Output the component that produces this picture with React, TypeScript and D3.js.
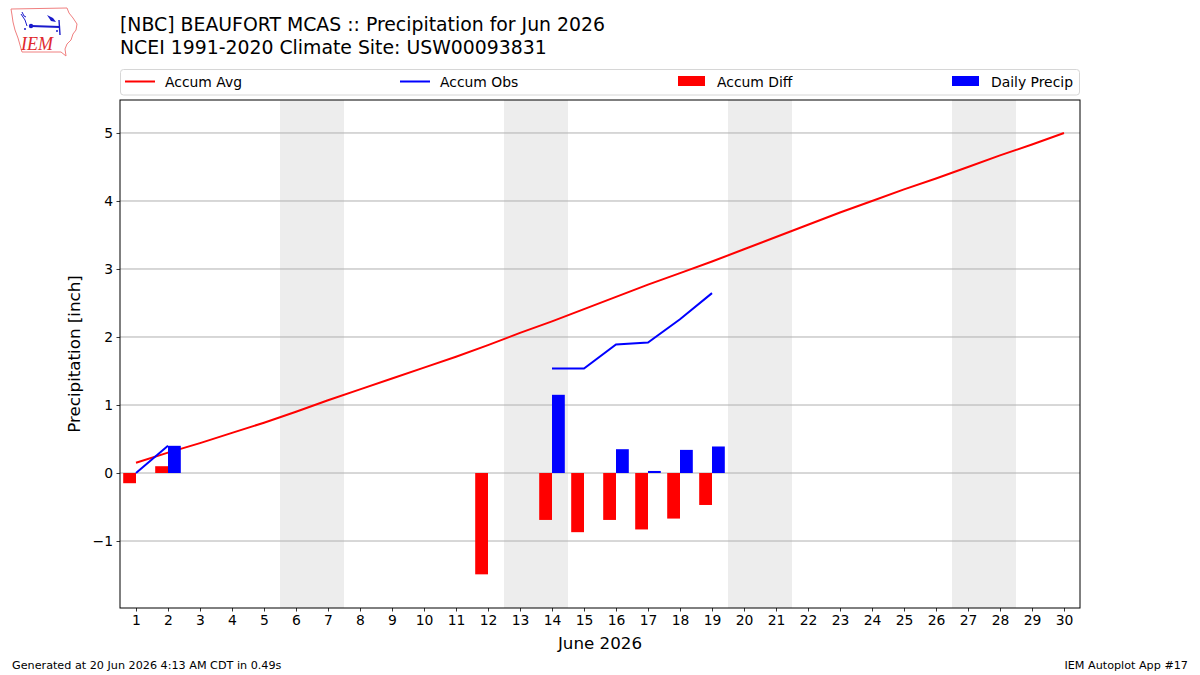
import React, { useEffect, useRef } from 'react';
import * as d3 from 'd3';

// June 2026 days
const days = d3.range(1, 31);

// climatological accumulated precipitation (inch)
const accumAvg = [
  0.15, 0.30, 0.44, 0.59, 0.74, 0.90, 1.07, 1.23, 1.39, 1.55,
  1.71, 1.88, 2.06, 2.23, 2.41, 2.59, 2.77, 2.94, 3.11, 3.29,
  3.47, 3.65, 3.83, 4.00, 4.17, 4.33, 4.50, 4.67, 4.83, 5.00,
];

// observed accumulated precipitation, null where missing
const accumObs: (number | null)[] = [
  0.0, 0.40, null, null, null, null, null, null, null, null,
  null, null, null, 1.535, 1.535, 1.89, 1.92, 2.26, 2.645,
];

// accumulated departure (obs - avg)
const diffDays = [1, 2, 12, 14, 15, 16, 17, 18, 19];
const diffVals = [-0.15, 0.10, -1.49, -0.69, -0.87, -0.69, -0.83, -0.67, -0.47];

// daily precipitation
const precipDays = [2, 14, 16, 17, 18, 19];
const precipVals = [0.40, 1.15, 0.35, 0.03, 0.34, 0.39];

// weekend spans
const weekends = [[6, 7], [13, 14], [20, 21], [27, 28]];

const yTicks = [-1, 0, 1, 2, 3, 4, 5];

const legendItems = [
  { label: 'Accum Avg', kind: 'line', color: 'red', x: 125 },
  { label: 'Accum Obs', kind: 'line', color: 'blue', x: 400 },
  { label: 'Accum Diff', kind: 'bar', color: 'red', x: 678 },
  { label: 'Daily Precip', kind: 'bar', color: 'blue', x: 952 },
];

const FONT = 'DejaVu Sans, sans-serif';

export default function App() {
  const svgRef = useRef<SVGSVGElement>(null);

  useEffect(() => {
    if (!svgRef.current) return;
    const width = 1200;
    const height = 675;
    const margin = { top: 100, right: 120, bottom: 67, left: 120 };

    d3.select(svgRef.current).selectAll('*').remove();
    const svg = d3.select(svgRef.current)
      .attr('width', width)
      .attr('height', height);

    svg.append('rect').attr('width', width).attr('height', height).attr('fill', '#fff');

    const x = d3.scaleLinear().domain([0.5, 30.5]).range([margin.left, width - margin.right]);
    const y = d3.scaleLinear().domain([-1.985, 5.485]).range([height - margin.bottom, margin.top]);
    const bw = x(1.4) - x(1);

    // weekend shading
    svg.append('g').selectAll('rect')
      .data(weekends)
      .enter()
      .append('rect')
      .attr('x', d => x(d[0] - 0.5))
      .attr('width', d => x(d[1] + 0.5) - x(d[0] - 0.5))
      .attr('y', margin.top)
      .attr('height', y.range()[0] - margin.top)
      .attr('fill', '#ededed');

    // horizontal grid
    svg.append('g').selectAll('line')
      .data(yTicks)
      .enter()
      .append('line')
      .attr('x1', x.range()[0])
      .attr('x2', x.range()[1])
      .attr('y1', d => y(d))
      .attr('y2', d => y(d))
      .attr('stroke', '#b0b0b0')
      .attr('stroke-width', 1);

    // accumulation lines
    const line = d3.line<number | null>()
      .defined(d => d !== null)
      .x((_, i) => x(days[i]))
      .y(d => y(d as number));

    svg.append('path')
      .datum(accumAvg)
      .attr('d', line as any)
      .attr('fill', 'none')
      .attr('stroke', 'red')
      .attr('stroke-width', 2);

    svg.append('path')
      .datum(accumObs)
      .attr('d', line as any)
      .attr('fill', 'none')
      .attr('stroke', 'blue')
      .attr('stroke-width', 2);

    // departure bars, left of the day
    svg.append('g').selectAll('rect')
      .data(diffVals)
      .enter()
      .append('rect')
      .attr('x', (_, i) => x(diffDays[i]) - bw)
      .attr('width', bw)
      .attr('y', d => y(Math.max(0, d)))
      .attr('height', d => Math.abs(y(d) - y(0)))
      .attr('fill', 'red');

    // daily precip bars, right of the day
    svg.append('g').selectAll('rect')
      .data(precipVals)
      .enter()
      .append('rect')
      .attr('x', (_, i) => x(precipDays[i]))
      .attr('width', bw)
      .attr('y', d => y(d))
      .attr('height', d => y(0) - y(d))
      .attr('fill', 'blue');

    // axes
    const xAxis = svg.append('g')
      .attr('transform', `translate(0,${y.range()[0]})`)
      .call(d3.axisBottom(x).tickValues(days).tickFormat(d3.format('d')).tickSizeInner(3.5).tickSizeOuter(0).tickPadding(3.5));
    const yAxis = svg.append('g')
      .attr('transform', `translate(${x.range()[0]},0)`)
      .call(d3.axisLeft(y).tickValues(yTicks).tickFormat(d => d3.format('d')(d as number).replace('-', '\u2212')).tickSizeInner(3.5).tickSizeOuter(0).tickPadding(3.5));
    [xAxis, yAxis].forEach(a => {
      a.select('.domain').remove();
      a.selectAll('line').attr('stroke', '#000').attr('stroke-width', 0.8);
      a.selectAll('text').attr('font-family', FONT).attr('font-size', 13.9).attr('fill', '#000');
    });

    // frame
    svg.append('rect')
      .attr('x', x.range()[0])
      .attr('y', margin.top)
      .attr('width', x.range()[1] - x.range()[0])
      .attr('height', y.range()[0] - margin.top)
      .attr('fill', 'none')
      .attr('stroke', '#000')
      .attr('stroke-width', 1);

    // axis labels
    svg.append('text')
      .attr('x', (x.range()[0] + x.range()[1]) / 2)
      .attr('y', 649)
      .attr('text-anchor', 'middle')
      .attr('font-family', FONT)
      .attr('font-size', 16.7)
      .text('June 2026');

    svg.append('text')
      .attr('transform', `translate(80,${(margin.top + y.range()[0]) / 2}) rotate(-90)`)
      .attr('text-anchor', 'middle')
      .attr('font-family', FONT)
      .attr('font-size', 16.7)
      .text('Precipitation [inch]');

    // titles
    svg.append('text')
      .attr('x', 120).attr('y', 31)
      .attr('font-family', FONT).attr('font-size', 18.85)
      .text('[NBC] BEAUFORT MCAS :: Precipitation for Jun 2026');
    svg.append('text')
      .attr('x', 120).attr('y', 54)
      .attr('font-family', FONT).attr('font-size', 18.85)
      .text('NCEI 1991-2020 Climate Site: USW00093831');

    // legend
    const lg = svg.append('g');
    lg.append('rect')
      .attr('x', 120.5).attr('y', 69.5)
      .attr('width', 959).attr('height', 25.5)
      .attr('rx', 3)
      .attr('fill', '#fff')
      .attr('stroke', '#d6d6d6');
    legendItems.forEach(it => {
      if (it.kind === 'line') {
        lg.append('line')
          .attr('x1', it.x).attr('x2', it.x + 30)
          .attr('y1', 81.5).attr('y2', 81.5)
          .attr('stroke', it.color).attr('stroke-width', 2);
      } else {
        lg.append('rect')
          .attr('x', it.x).attr('y', 76)
          .attr('width', 27).attr('height', 10)
          .attr('fill', it.color);
      }
      lg.append('text')
        .attr('x', it.x + (it.kind === 'line' ? 40 : 39))
        .attr('y', 86.5)
        .attr('font-family', FONT).attr('font-size', 13.9)
        .text(it.label);
    });

    // footer
    svg.append('text')
      .attr('x', 12).attr('y', 669)
      .attr('font-family', FONT).attr('font-size', 11.2)
      .text('Generated at 20 Jun 2026 4:13 AM CDT in 0.49s');
    svg.append('text')
      .attr('x', 1188).attr('y', 669)
      .attr('text-anchor', 'end')
      .attr('font-family', FONT).attr('font-size', 11.2)
      .text('IEM Autoplot App #17');

    // IEM logo
    const logo = svg.append('g');
    logo.append('path')
      .attr('d', 'M11,9 L67,8 L69,13 L73,18 L77,24 L76,30 L73,34 L71,40 L67,44 L65,49 L66,56 L61,52 L22,52 L20,45 L18,38 L15,30 L13,22 L12,15 Z')
      .attr('fill', '#fff')
      .attr('stroke', '#f08080')
      .attr('stroke-width', 1);
    logo.append('line').attr('x1', 31).attr('x2', 60).attr('y1', 26).attr('y2', 27)
      .attr('stroke', '#1a1acc').attr('stroke-width', 1.8);
    logo.append('circle').attr('cx', 31).attr('cy', 26).attr('r', 2.2).attr('fill', '#1a1acc');
    logo.append('path').attr('d', 'M47,15 L53,18 L56,22 L51,21 Z').attr('fill', '#1a1acc');
    logo.append('line').attr('x1', 59).attr('x2', 60).attr('y1', 20).attr('y2', 35)
      .attr('stroke', '#1a1acc').attr('stroke-width', 1.4);
    logo.append('path').attr('d', 'M22,12 L24,16 L26,17 M21,14 L25,20 L27,26')
      .attr('fill', 'none').attr('stroke', '#1a1acc').attr('stroke-width', 1);
    logo.append('circle').attr('cx', 25).attr('cy', 29).attr('r', 1).attr('fill', '#1a1acc');
    logo.append('circle').attr('cx', 57).attr('cy', 31).attr('r', 1).attr('fill', '#1a1acc');
    logo.append('text')
      .attr('x', 21).attr('y', 50)
      .attr('font-family', 'Liberation Serif, serif')
      .attr('font-style', 'italic')
      .attr('font-size', 18)
      .attr('fill', '#e0282d')
      .text('IEM');
  }, []);

  return (
    <svg
      ref={svgRef}
      style={{ position: 'absolute', left: 0, top: 0, display: 'block' }}
    />
  );
}
